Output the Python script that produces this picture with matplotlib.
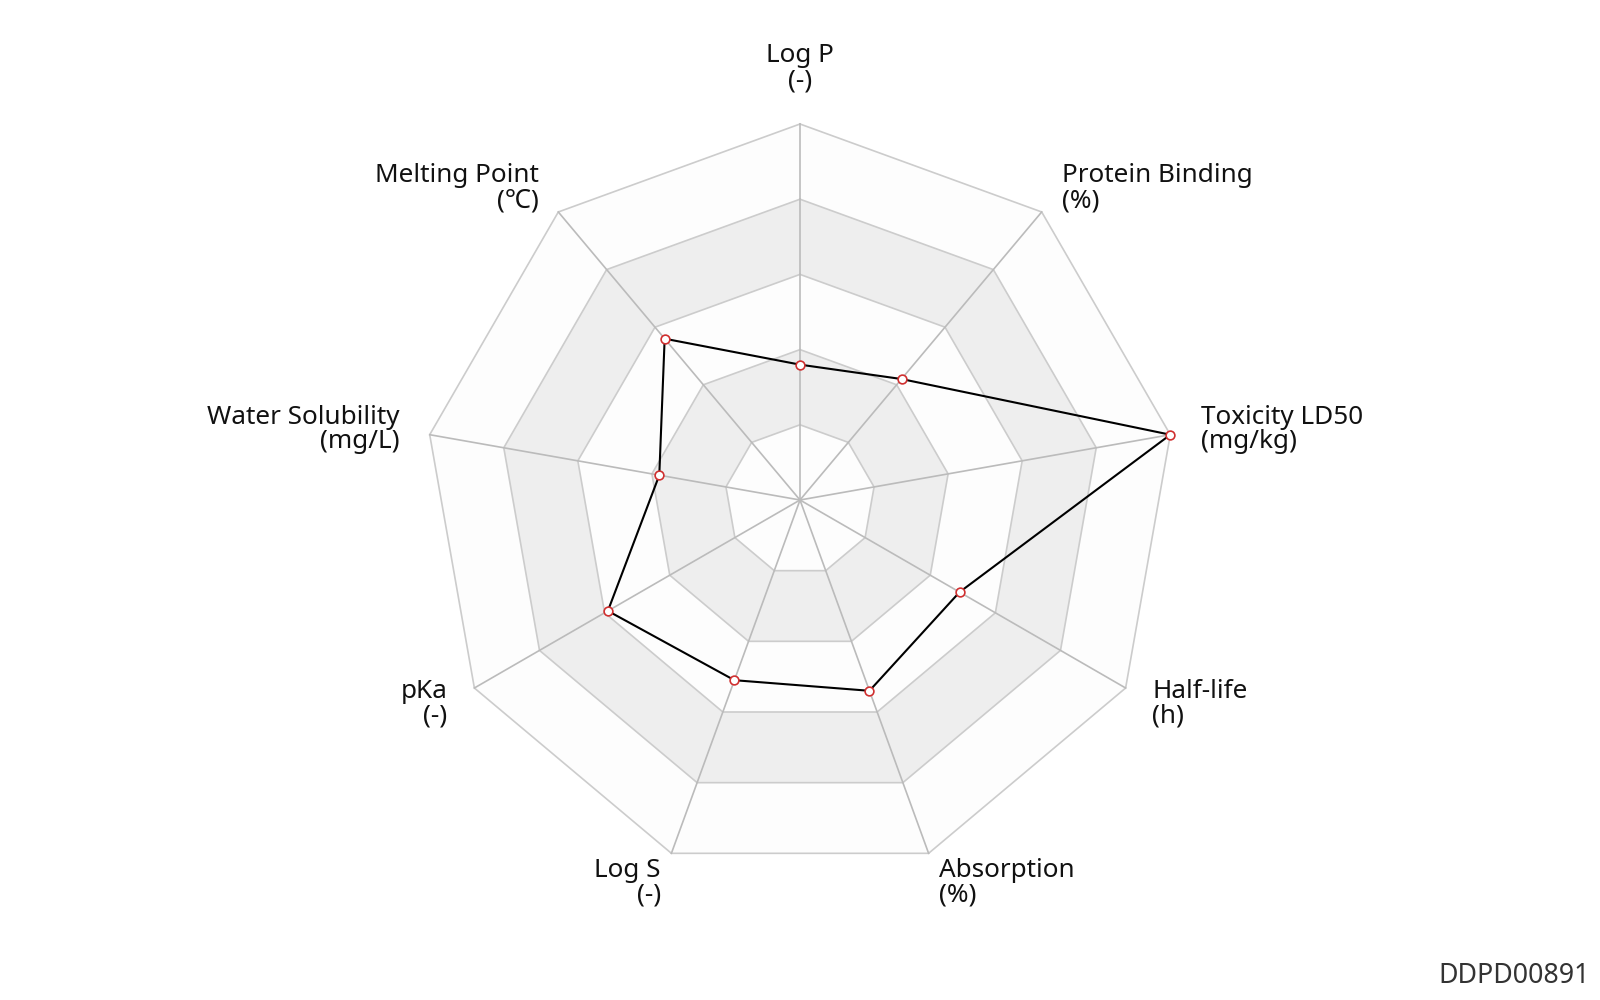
import numpy as np
import matplotlib
matplotlib.use("Agg")
import matplotlib.pyplot as plt

plt.rcParams['font.family'] = ['Noto Sans', 'DejaVu Sans']

# axis names (clockwise from top) with units
indicators = ["Log P", "Protein Binding", "Toxicity LD50", "Half-life", "Absorption",
              "Log S", "pKa", "Water Solubility", "Melting Point"]
units = ["(-)", "(%)", "(mg/kg)", "(h)", "(%)", "(-)", "(-)", "(mg/L)", "(℃)"]
# normalised scores, max 100
scores = [36, 42, 100, 49, 54, 51, 59, 38, 56]
score_max = 100
n_rings = 5
watermark = "DDPD00891"

W, H = 1600, 1000
cx, cy = 800, 500
R_px = 376.0
gap_px = 31.0

fig = plt.figure(figsize=(W / 100, H / 100), dpi=100)
ax = fig.add_axes([0, 0, 1, 1])
ax.set_xlim(-cx / R_px, (W - cx) / R_px)
ax.set_ylim(-(H - cy) / R_px, cy / R_px)
ax.axis('off')

n = len(indicators)
theta = np.arange(n) * 2 * np.pi / n
sx, sy = np.sin(theta), np.cos(theta)

# split areas, outer to inner
band_colors = ['#fdfdfd', '#eeeeee']
for k in range(n_rings, 0, -1):
    r = k / n_rings
    ax.fill(r * sx, r * sy, color=band_colors[(k - 1) % 2], lw=0, zorder=1)
# split lines
for k in range(1, n_rings + 1):
    r = k / n_rings
    ax.plot(np.append(r * sx, r * sx[0]), np.append(r * sy, r * sy[0]),
            color='#cccccc', lw=1.2, zorder=2, solid_joinstyle='miter')
# axis lines
for i in range(n):
    ax.plot([0, sx[i]], [0, sy[i]], color='#bbbbbb', lw=1.2, zorder=2)

# data
v = np.array(scores) / score_max
px, py = v * sx, v * sy
ax.plot(np.append(px, px[0]), np.append(py, py[0]), color='black', lw=1.5, zorder=3)
ax.plot(px, py, 'o', ms=6.3, mfc='white', mec='#d03030', mew=1.2, zorder=4)

# axis names
rr = 1 + gap_px / R_px
for i in range(n):
    if sx[i] > 0.01:
        ha = 'left'
    elif sx[i] < -0.01:
        ha = 'right'
    else:
        ha = 'center'
    if abs(sx[i]) <= 0.01:
        va = 'bottom' if sy[i] > 0 else 'top'
    else:
        va = 'center'
    ax.text(rr * sx[i], rr * sy[i], indicators[i] + "\n" + units[i],
            ha=ha, va=va, multialignment=ha, fontsize=18.8, linespacing=0.98,
            color='#111111')

fig.text(1590 / W, (H - 983) / H, watermark, ha='right', va='baseline',
         fontsize=19.3, color='#333333')

plt.savefig('out.png', dpi=100)
